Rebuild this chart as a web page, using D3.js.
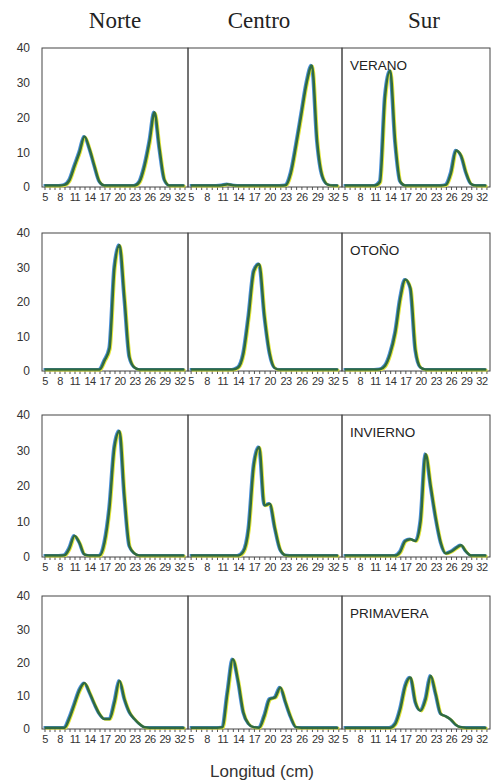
<!DOCTYPE html>
<html>
<head>
<meta charset="utf-8">
<script src="https://cdn.jsdelivr.net/npm/d3@7"></script>
<style>
  body { margin: 0; background: #fff; }
  svg { display: block; }
</style>
</head>
<body>
<svg id="chart" width="495" height="782"></svg>
<script>
// length classes (cm)
const lengths = [5,6,7,8,9,10,11,12,13,14,15,16,17,18,19,20,21,22,23,24,25,26,27,28,29,30,31,32,33];
const zones = ['Norte', 'Centro', 'Sur'];
const seasons = ['VERANO', 'OTOÑO', 'INVIERNO', 'PRIMAVERA'];
const yTicks = [0, 10, 20, 30, 40];

// frequency (%) by length class
const veranoNorte     = [0.4,0.4,0.4,0.4,0.6, 2,6,10,14.5,11, 6,1.5,0.4,0.4,0.4, 0.4,0.4,0.4,0.4,1.5, 6,13,21.5,11,2, 0.4,0.4,0.4,0.4];
const veranoCentro    = [0.4,0.4,0.4,0.4,0.4, 0.4,0.5,0.8,0.5,0.4, 0.4,0.4,0.4,0.4,0.4, 0.4,0.4,0.4,0.5,4, 12,21,30,35,13, 3,0.7,0.4,0.4];
const veranoSur       = [0.4,0.4,0.4,0.4,0.4, 0.4,0.4,1.5,26,33.5, 13,1.5,0.4,0.4,0.4, 0.4,0.4,0.4,0.4,0.4, 0.6,4,10.5,9,4, 0.8,0.4,0.4,0.4];
const otonoNorte      = [0.4,0.4,0.4,0.4,0.4, 0.4,0.4,0.4,0.4,0.4, 0.4,0.4,3,6.5,30, 36.5,21,4,1,0.4, 0.4,0.4,0.4,0.4,0.4, 0.4,0.4,0.4,0.4];
const otonoCentro     = [0.4,0.4,0.4,0.4,0.4, 0.4,0.4,0.4,0.4,1, 5,16,29,31,16, 5,0.8,0.4,0.4,0.4, 0.4,0.4,0.4,0.4,0.4, 0.4,0.4,0.4,0.4];
const otonoSur        = [0.4,0.4,0.4,0.4,0.4, 0.4,0.4,0.5,1.5,5, 11,21,26.5,24,6, 1,0.4,0.4,0.4,0.4, 0.4,0.4,0.4,0.4,0.4, 0.4,0.4,0.4,0.4];
const inviernoNorte   = [0.4,0.4,0.4,0.4,0.5, 2.5,6,4,0.7,0.4, 0.4,0.4,4,14,31, 35.5,17,3,1,0.4, 0.4,0.4,0.4,0.4,0.4, 0.4,0.4,0.4,0.4];
const inviernoCentro  = [0.4,0.4,0.4,0.4,0.4, 0.4,0.4,0.4,0.4,0.4, 1.5,8,26,31,14.5, 15,8,2,0.5,0.4, 0.4,0.4,0.4,0.4,0.4, 0.4,0.4,0.4,0.4];
const inviernoSur     = [0.4,0.4,0.4,0.4,0.4, 0.4,0.4,0.4,0.4,0.4, 0.4,1.5,4.5,5,4.5, 10,29,20,11,4, 1,1.5,2.5,3.3,1.5, 0.4,0.4,0.4,0.4];
const primaveraNorte  = [0.4,0.4,0.4,0.4,0.4, 3.3,7.5,11.7,13.8,11, 7.5,4.5,3,3,8, 14.5,9,5,3,1.5, 0.5,0.4,0.4,0.4,0.4, 0.4,0.4,0.4,0.4];
const primaveraCentro = [0.4,0.4,0.4,0.4,0.4, 0.4,0.5,11,21,14.5, 5,1.5,0.5,0.4,4, 9,9.5,12.5,8,3.5, 0.5,0.4,0.4,0.4,0.4, 0.4,0.4,0.4,0.4];
const primaveraSur    = [0.4,0.4,0.4,0.4,0.4, 0.4,0.4,0.4,0.4,0.4, 1.5,6,13,15.5,8, 5.5,9,16,10.5,4.5, 3.8,2.8,1.2,0.5,0.4, 0.4,0.4,0.4,0.4];

const grid = [
  [veranoNorte, veranoCentro, veranoSur],
  [otonoNorte, otonoCentro, otonoSur],
  [inviernoNorte, inviernoCentro, inviernoSur],
  [primaveraNorte, primaveraCentro, primaveraSur]
];

// panel layout
const colX = [42, 188, 342];
const colW = [146, 154, 148];
const rowTop = [48, 233, 415, 596];
const rowBottom = [187, 371, 557, 729];

const svg = d3.select('#chart');
const sans = 'Liberation Sans, Arial, sans-serif';

// column headers
svg.selectAll('text.zone')
  .data(zones)
  .join('text')
  .attr('class', 'zone')
  .attr('x', (d, i) => colX[i] + colW[i] / 2 + (i === 0 ? 0 : (i === 1 ? -6 : 8)))
  .attr('y', 28)
  .attr('text-anchor', 'middle')
  .attr('font-family', 'Liberation Serif, Times New Roman, serif')
  .attr('font-size', 23)
  .attr('fill', '#222')
  .text(d => d);

grid.forEach((row, r) => {
  const y = d3.scaleLinear()
    .domain([0, 40])
    .range([rowBottom[r], rowTop[r]]);

  // y labels only on the left
  svg.append('g')
    .attr('transform', `translate(${colX[0]},0)`)
    .call(d3.axisLeft(y).tickValues(yTicks).tickSize(0).tickPadding(12))
    .call(g => g.select('.domain').remove())
    .call(g => g.selectAll('text')
      .attr('font-family', sans)
      .attr('font-size', 12)
      .attr('fill', '#333'));

  row.forEach((values, c) => {
    const x = d3.scaleLinear()
      .domain([4.5, 33.7])
      .range([colX[c], colX[c] + colW[c]]);

    // x axis with a tick for every class, label every 3 cm
    svg.append('g')
      .attr('transform', `translate(0,${rowBottom[r]})`)
      .call(d3.axisBottom(x)
        .tickValues(lengths)
        .tickSize(3)
        .tickPadding(3)
        .tickFormat(d => (d - 5) % 3 === 0 ? d : ''))
      .call(g => g.select('.domain').remove())
      .call(g => g.selectAll('line').attr('stroke', '#555'))
      .call(g => g.selectAll('text')
        .attr('font-family', sans)
        .attr('font-size', 11)
        .attr('letter-spacing', -0.5)
        .attr('fill', '#333'));

    // panel frame
    svg.append('rect')
      .attr('x', colX[c])
      .attr('y', rowTop[r])
      .attr('width', colW[c])
      .attr('height', rowBottom[r] - rowTop[r])
      .attr('fill', 'none')
      .attr('stroke', '#444')
      .attr('stroke-width', 1);

    const line = d3.line()
      .x((d, i) => x(lengths[i]))
      .y(d => y(d))
      .curve(d3.curveMonotoneX);

    // blue / yellow fringes under the dark green line
    [['#4a8fd8', -1, -0.5], ['#e4e63a', 1, 0.6]].forEach(([col, dx, dy]) => {
      svg.append('path')
        .datum(values)
        .attr('transform', `translate(${dx},${dy})`)
        .attr('fill', 'none')
        .attr('stroke', col)
        .attr('stroke-width', 2.4)
        .attr('stroke-linejoin', 'round')
        .attr('d', line);
    });

    svg.append('path')
      .datum(values)
      .attr('fill', 'none')
      .attr('stroke', '#2f6a42')
      .attr('stroke-width', 2.5)
      .attr('stroke-linejoin', 'round')
      .attr('d', line);
  });

  // season label in the right panel
  svg.append('text')
    .attr('x', colX[2] + 8)
    .attr('y', rowTop[r] + 22)
    .attr('font-family', sans)
    .attr('font-size', 13.5)
    .attr('fill', '#222')
    .text(seasons[r]);
});

svg.append('text')
  .attr('x', 262)
  .attr('y', 777)
  .attr('text-anchor', 'middle')
  .attr('font-family', sans)
  .attr('font-size', 17)
  .attr('fill', '#333')
  .text('Longitud (cm)');
</script>
</body>
</html>
